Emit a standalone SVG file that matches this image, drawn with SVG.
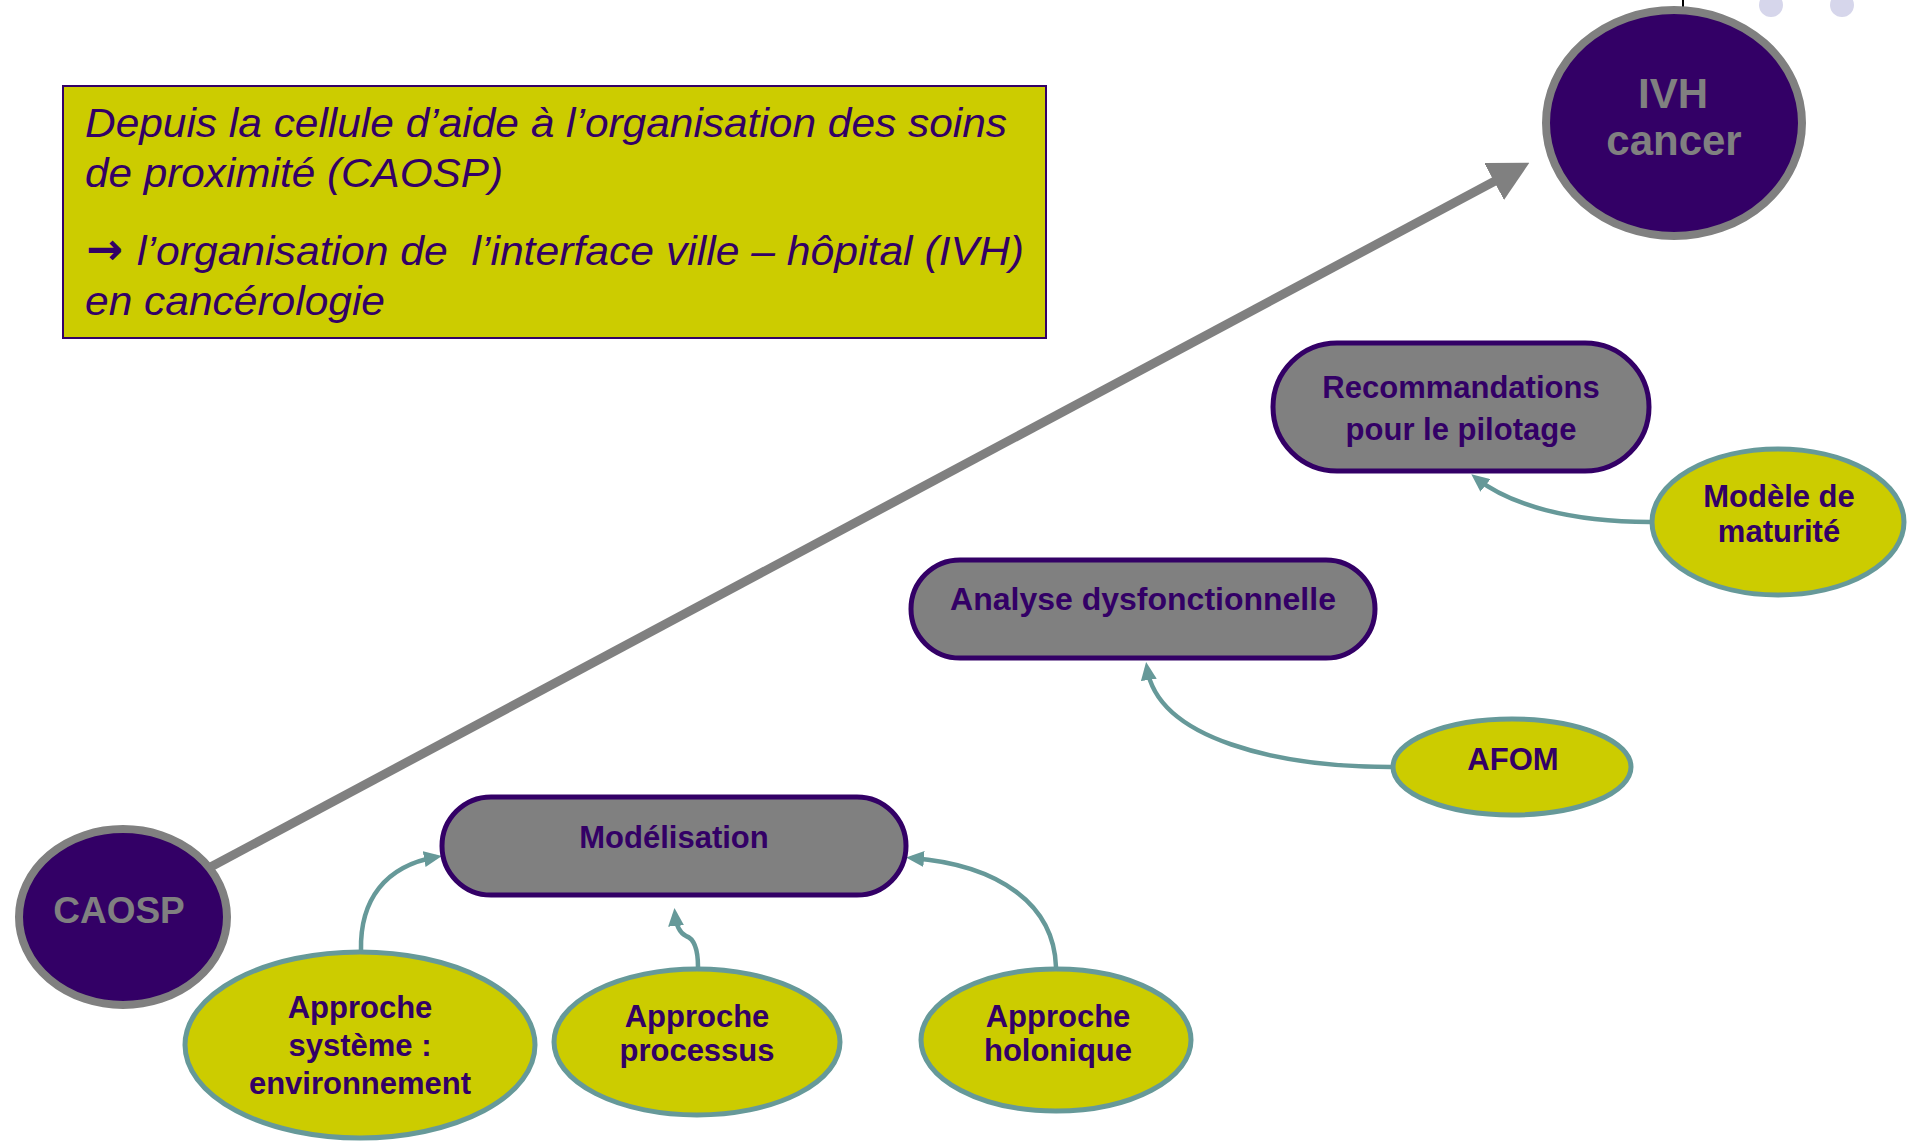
<svg xmlns="http://www.w3.org/2000/svg" width="1912" height="1141" viewBox="0 0 1912 1141">
<style>
text{font-family:"Liberation Sans",Arial,sans-serif}
.intro{font-size:40px;font-style:italic;fill:#330066;white-space:pre}
.big{font-size:42px;font-weight:bold;fill:#808080;text-anchor:middle}
.lbl{font-size:31px;font-weight:bold;fill:#330066;text-anchor:middle}
.pill{fill:#808080;stroke:#330066;stroke-width:5}
.oval{fill:#CCCC00;stroke:#669999;stroke-width:5}
.core{fill:#330066;stroke:#808080;stroke-width:8}
.link{fill:none;stroke:#669999;stroke-width:4.5;marker-end:url(#th)}
</style>
<defs>
<marker id="th" markerUnits="userSpaceOnUse" markerWidth="18" markerHeight="16" refX="12" refY="8" orient="auto"><path d="M0,0 L18,8 L0,16 z" fill="#669999"/></marker>
<marker id="gh" markerUnits="userSpaceOnUse" markerWidth="40" markerHeight="42" refX="1" refY="21" orient="auto"><path d="M0,0 L40,21 L0,42 z" fill="#808080"/></marker>
</defs>
<line x1="1683" y1="0" x2="1683" y2="7" stroke="#000" stroke-width="2"/>
<circle cx="1771" cy="5" r="12" fill="#D6D6EB"/>
<circle cx="1842" cy="5" r="12" fill="#D6D6EB"/>
<g id="intro">
<rect x="63" y="86" width="983" height="252" fill="#CCCC00" stroke="#330066" stroke-width="2"/>
<text class="intro" x="85" y="137" textLength="922" lengthAdjust="spacingAndGlyphs">Depuis la cellule d’aide à l’organisation des soins</text>
<text class="intro" x="85" y="187" textLength="418" lengthAdjust="spacingAndGlyphs">de proximité (CAOSP)</text>
<text x="86" y="264" style="font-family:'DejaVu Sans',sans-serif;font-weight:bold;font-size:44px;fill:#330066">→</text>
<text class="intro" x="137" y="265" textLength="887" lengthAdjust="spacingAndGlyphs">l’organisation de  l’interface ville – hôpital (IVH)</text>
<text class="intro" x="85" y="315" textLength="300" lengthAdjust="spacingAndGlyphs">en cancérologie</text>
</g>
<g id="connectors">
<line x1="205" y1="870" x2="1495" y2="181" stroke="#808080" stroke-width="9" marker-end="url(#gh)"/>
<path class="link" d="M1650,522 C1570,522 1510,505 1476,478"/>
<path class="link" d="M1391,767 C1280,767 1158,740 1147,668"/>
<path class="link" d="M361,950 C360,900 385,866 436,857"/>
<path class="link" d="M698,967 C698,945 692,938 686,936 C680,933 676,925 675,914"/>
<path class="link" d="M1056,967 C1054,905 1000,865 912,858"/>
</g>
<g id="caosp">
<ellipse class="core" cx="123" cy="917" rx="104" ry="88"/>
<text class="big" x="119" y="923" style="font-size:37px">CAOSP</text>
</g>
<g id="ivh">
<ellipse class="core" cx="1674" cy="123" rx="128" ry="113"/>
<text class="big" x="1673" y="108">IVH</text>
<text class="big" x="1674" y="155">cancer</text>
</g>
<g id="recommandations">
<rect class="pill" x="1273" y="343" width="376" height="128" rx="64" ry="64"/>
<text class="lbl" x="1461" y="398">Recommandations</text>
<text class="lbl" x="1461" y="440">pour le pilotage</text>
</g>
<g id="maturite">
<ellipse class="oval" cx="1778" cy="522" rx="126" ry="73"/>
<text class="lbl" x="1779" y="507">Modèle de</text>
<text class="lbl" x="1779" y="542">maturité</text>
</g>
<g id="analyse">
<rect class="pill" x="911" y="560" width="464" height="98" rx="49" ry="49"/>
<text class="lbl" x="1143" y="610" style="font-size:32px">Analyse dysfonctionnelle</text>
</g>
<g id="afom">
<ellipse class="oval" cx="1512" cy="767" rx="119" ry="48"/>
<text class="lbl" x="1513" y="770">AFOM</text>
</g>
<g id="modelisation">
<rect class="pill" x="442" y="797" width="464" height="98" rx="49" ry="49"/>
<text class="lbl" x="674" y="848">Modélisation</text>
</g>
<g id="systeme">
<ellipse class="oval" cx="360" cy="1045" rx="175" ry="93"/>
<text class="lbl" x="360" y="1018">Approche</text>
<text class="lbl" x="360" y="1056">système :</text>
<text class="lbl" x="360" y="1094">environnement</text>
</g>
<g id="processus">
<ellipse class="oval" cx="697" cy="1042" rx="143" ry="73"/>
<text class="lbl" x="697" y="1027">Approche</text>
<text class="lbl" x="697" y="1061">processus</text>
</g>
<g id="holonique">
<ellipse class="oval" cx="1056" cy="1040" rx="135" ry="71"/>
<text class="lbl" x="1058" y="1027">Approche</text>
<text class="lbl" x="1058" y="1061">holonique</text>
</g>
</svg>
